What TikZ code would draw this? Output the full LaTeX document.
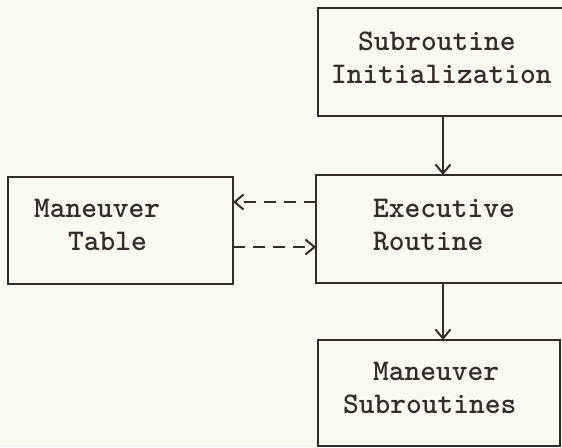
\documentclass[tikz,border=0pt]{standalone}
\usetikzlibrary{arrows.meta}
\definecolor{paper}{RGB}{251,250,241}
\definecolor{ink}{RGB}{52,44,42}
\tikzset{
  box/.style={draw=ink, line width=2.2pt, inner sep=0pt, outer sep=0pt},
  lbl/.style={anchor=base west, inner sep=0pt, text=ink,
    font=\ttfamily\bfseries\fontsize{30}{33}\selectfont},
  flow/.style={draw=ink, line width=2pt, -{Straight Barb[length=9pt,width=15pt,line width=2pt]}},
  dflow/.style={flow, dash pattern=on 12pt off 8pt}
}
\begin{document}
\begin{tikzpicture}[x=1pt,y=-1pt]
  \fill[paper] (0,0) rectangle (562,447);
  \useasboundingbox (0,0) rectangle (562,447);

  % boxes
  \node[box, minimum width=246pt, minimum height=108pt] (init)  at (441,62)    {};
  \node[box, minimum width=248pt, minimum height=108pt] (exec)  at (440,229)   {};
  \node[box, minimum width=225pt, minimum height=107pt] (table) at (120.5,230.5) {};
  \node[box, minimum width=242pt, minimum height=106pt] (subs)  at (439,393)   {};

  % labels, typed line by line
  \node[lbl] (t1) at (358,50)  {Subroutine};
  \node[lbl] (t2) at (331,83)  {Initialization};
  \node[lbl] (t3) at (373,217) {Executive};
  \node[lbl] (t4) at (373,250) {Routine};
  \node[lbl] (t5) at (34,217)  {Maneuver};
  \node[lbl] (t6) at (68,250)  {Table};
  \node[lbl] (t7) at (373,380) {Maneuver};
  \node[lbl] (t8) at (343,413) {Subroutines};

  % connectors
  \coordinate (ax) at (443,0);
  \coordinate (up) at (0,202);
  \coordinate (lo) at (0,247);
  \draw[flow] (init.south -| ax) -- (exec.north -| ax);
  \draw[flow] (exec.south -| ax) -- (subs.north -| ax);
  \draw[dflow] (exec.west |- up) -- (table.east |- up);
  \draw[dflow] (table.east |- lo) -- (exec.west |- lo);
\end{tikzpicture}
\end{document}
